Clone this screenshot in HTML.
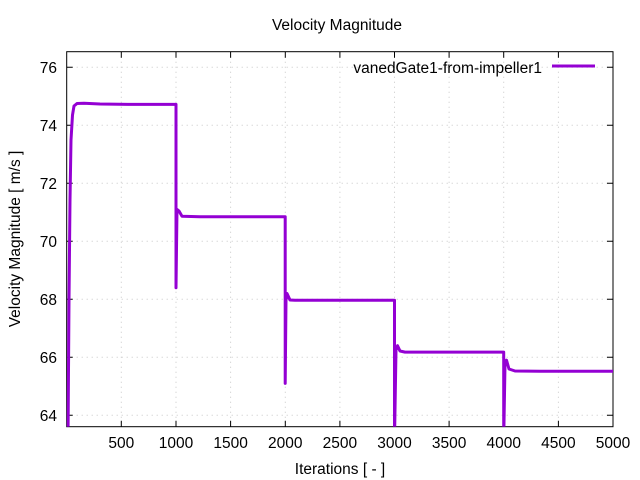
<!DOCTYPE html>
<html><head><meta charset="utf-8"><style>body{margin:0;background:#fff}svg{display:block}text{font-family:"Liberation Sans",sans-serif;fill:#000}</style></head><body>
<svg width="640" height="480" viewBox="0 0 640 480">
<defs><clipPath id="c"><rect x="66.7" y="51.7" width="546.3" height="375"/></clipPath></defs>
<g stroke="#c8c8c8" stroke-width="1" stroke-dasharray="1,4">
<line x1="121.3" y1="51.7" x2="121.3" y2="426.7"/><line x1="176" y1="51.7" x2="176" y2="426.7"/><line x1="230.6" y1="51.7" x2="230.6" y2="426.7"/><line x1="285.3" y1="51.7" x2="285.3" y2="426.7"/><line x1="339.9" y1="51.7" x2="339.9" y2="426.7"/><line x1="394.5" y1="51.7" x2="394.5" y2="426.7"/><line x1="449.1" y1="51.7" x2="449.1" y2="426.7"/><line x1="503.7" y1="51.7" x2="503.7" y2="426.7"/><line x1="558.4" y1="51.7" x2="558.4" y2="426.7"/>
<line x1="66.7" y1="67.3" x2="613" y2="67.3"/><line x1="66.7" y1="125.3" x2="613" y2="125.3"/><line x1="66.7" y1="183.3" x2="613" y2="183.3"/><line x1="66.7" y1="241.3" x2="613" y2="241.3"/><line x1="66.7" y1="299.3" x2="613" y2="299.3"/><line x1="66.7" y1="357.3" x2="613" y2="357.3"/><line x1="66.7" y1="415.3" x2="613" y2="415.3"/>
</g>
<g stroke="#000" stroke-width="1">
<path d="M121.3 426.7v-6M176 426.7v-6M230.6 426.7v-6M285.3 426.7v-6M339.9 426.7v-6M394.5 426.7v-6M449.1 426.7v-6M503.7 426.7v-6M558.4 426.7v-6M121.3 51.7v6M176 51.7v6M230.6 51.7v6M285.3 51.7v6M339.9 51.7v6M394.5 51.7v6M449.1 51.7v6M503.7 51.7v6M558.4 51.7v6"/>
<path d="M66.7 67.3h6M66.7 125.3h6M66.7 183.3h6M66.7 241.3h6M66.7 299.3h6M66.7 357.3h6M66.7 415.3h6M613 67.3h-6M613 125.3h-6M613 183.3h-6M613 241.3h-6M613 299.3h-6M613 357.3h-6M613 415.3h-6"/>
<rect x="66.7" y="51.7" width="546.3" height="375" fill="none"/>
</g>
<g clip-path="url(#c)" fill="none" stroke="#9400d3" stroke-width="3" stroke-linejoin="round">
<path d="M68 440 L69 300 L70 200 L71 140 L72.5 115 L74 106 L77 103.5 L84 103.3 L100 104 L130 104.4 L176 104.4 L176 287.7 L177 209.4 L179 211 L182 216.2 L200 216.7 L285.2 216.7 L285.2 383.4 L286 300 L287 293.5 L290 300 L295 300.2 L394.5 300.2 L394.5 440 L396 350 L397.5 345.7 L400 351 L405 352.1 L503.7 352.1 L503.7 440 L505 365 L506.5 360.2 L509 369 L515 371 L540 371.2 L613 371.2"/>
</g>
<g font-size="15.5" text-anchor="end">
<text x="57" y="73">76</text><text x="57" y="131">74</text><text x="57" y="189">72</text><text x="57" y="247">70</text><text x="57" y="305">68</text><text x="57" y="363">66</text><text x="57" y="421">64</text>
</g>
<g font-size="15.5" text-anchor="middle">
<text x="121.3" y="448">500</text><text x="176" y="448">1000</text><text x="230.6" y="448">1500</text><text x="285.3" y="448">2000</text><text x="339.9" y="448">2500</text><text x="394.5" y="448">3000</text><text x="449.1" y="448">3500</text><text x="503.7" y="448">4000</text><text x="558.4" y="448">4500</text><text x="613" y="448">5000</text>
</g>
<text x="337" y="30" font-size="15.5" text-anchor="middle">Velocity Magnitude</text>
<text x="340" y="474" font-size="15.5" text-anchor="middle">Iterations [ - ]</text>
<text transform="translate(20,239) rotate(-90)" font-size="15.5" text-anchor="middle">Velocity Magnitude [ m/s ]</text>
<text x="542" y="73" font-size="15.5" text-anchor="end">vanedGate1-from-impeller1</text>
<line x1="552" y1="66" x2="595" y2="66" stroke="#9400d3" stroke-width="3"/>
</svg>
</body></html>
